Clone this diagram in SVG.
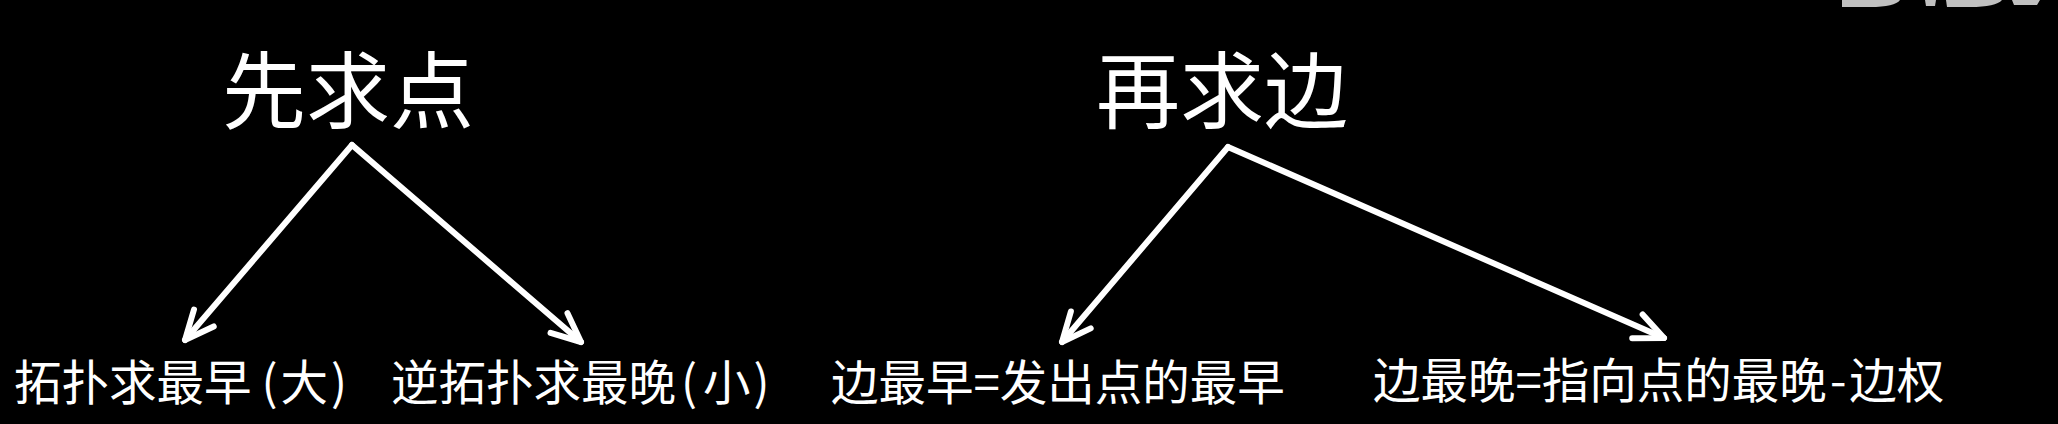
<svg xmlns="http://www.w3.org/2000/svg" width="2058" height="424" viewBox="0 0 2058 424">
  <style>
    .title { font-family: "Noto Sans CJK SC", "Noto Sans", sans-serif; font-size: 84px; fill: #ffffff; }
    .label { font-family: "Noto Sans CJK SC", "Noto Sans", sans-serif; font-size: 47.5px; fill: #ffffff; }
    .arrow { stroke: #ffffff; stroke-width: 6; stroke-linecap: round; fill: none; marker-end: url(#head); }
  </style>
  <defs>
    <marker id="head" markerUnits="userSpaceOnUse" viewBox="-34 -20 40 40" refX="0" refY="0" markerWidth="40" markerHeight="40" orient="auto" overflow="visible">
      <path d="M -29 -13 L 0 0 L -29 13" fill="none" stroke="#ffffff" stroke-width="6" stroke-linecap="round" stroke-linejoin="round"/>
    </marker>
  </defs>
  <rect x="0" y="0" width="2058" height="424" fill="#000000"/>
  <g id="watermark" fill="#c0c0c0">
    <path d="M 1842 0 L 1900 0 Q 1895 7 1870 7 L 1842 7 Z"/>
    <path d="M 1925 0 L 1936 0 L 1935 6 L 1926 6 Z"/>
    <path d="M 1946 0 L 2002 0 Q 1996 7 1970 7 L 1947 7 Z"/>
    <path d="M 2012 0 L 2040 0 L 2037 5 L 2014 5 Z"/>
  </g>
  <g id="node-points">
    <text class="title" x="222" y="122">先求点</text>
  </g>
  <g id="node-edges">
    <text class="title" x="1096" y="122">再求边</text>
  </g>
  <g id="node-earliest">
    <text class="label" x="14" y="400">拓扑求最早<tspan dx="10">(</tspan><tspan dx="3">大</tspan><tspan dx="3">)</tspan></text>
  </g>
  <g id="node-latest">
    <text class="label" x="391" y="400">逆拓扑求最晚<tspan dx="5">(</tspan><tspan dx="6">小</tspan><tspan dx="3">)</tspan></text>
  </g>
  <g id="node-edge-earliest">
    <text class="label" x="831" y="400">边最早=发出点的最早</text>
  </g>
  <g id="node-edge-latest">
    <text class="label" x="1373" y="398">边最晚=指向点的最晚<tspan dx="3">-</tspan><tspan dx="3">边权</tspan></text>
  </g>
  <g id="connectors">
    <line class="arrow" x1="352" y1="145" x2="185" y2="340"/>
    <line class="arrow" x1="352" y1="145" x2="581" y2="342"/>
    <line class="arrow" x1="1228" y1="147" x2="1062" y2="342"/>
    <line class="arrow" x1="1228" y1="147" x2="1664" y2="338"/>
  </g>
</svg>
